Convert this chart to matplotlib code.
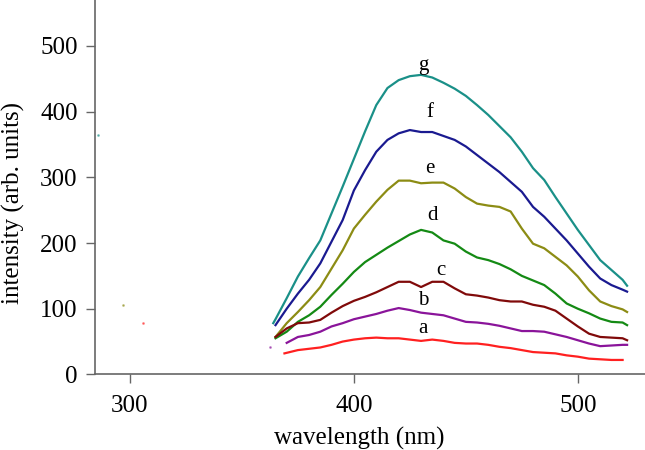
import matplotlib
matplotlib.use("Agg")
import matplotlib.pyplot as plt

plt.rcParams['font.family'] = ['Liberation Serif', 'DejaVu Serif']

# wavelength grid (nm)
wl = [365, 370, 375, 380, 385, 390, 395, 400, 405, 410, 415, 420, 425, 430,
      435, 440, 445, 450, 455, 460, 465, 470, 475, 480, 485, 490, 495, 500,
      505, 510, 515, 520, 522]

# intensities
g_wl = [364] + wl
g = [78, 84, 116, 149, 177, 204, 245, 286, 328, 370, 410, 436, 448, 454, 456,
     452, 444, 435, 424, 410, 395, 378, 361, 339, 314, 296, 270, 245, 220,
     197, 174, 159, 144, 135]
f = [75, 100, 123, 144, 169, 202, 235, 280, 311, 339, 357, 367, 372, 369,
     369, 363, 357, 347, 334, 321, 308, 293, 278, 255, 240, 222, 204, 184,
     164, 146, 136, 129, 126]
e = [57, 78, 95, 113, 133, 161, 189, 222, 243, 263, 281, 295, 295, 291,
     292, 292, 283, 270, 260, 257, 255, 248, 222, 199, 192, 179, 166, 149,
     128, 111, 104, 99, 95]
d = [55, 65, 80, 90, 103, 121, 138, 156, 171, 182, 193, 203, 213, 220,
     216, 204, 199, 187, 178, 174, 168, 160, 150, 143, 136, 123, 108, 100,
     93, 85, 80, 79, 75]
c = [57, 70, 78, 79, 83, 94, 104, 112, 118, 125, 133, 141, 141, 133,
     141, 141, 131, 122, 120, 117, 113, 111, 111, 106, 103, 97, 85, 73,
     62, 57, 56, 55, 52]
b_wl = wl[1:]
b = [48, 57, 60, 65, 73, 78, 84, 88, 92, 97, 101, 98, 94,
     92, 90, 85, 80, 79, 77, 74, 70, 66, 66, 65, 61, 57, 52,
     47, 43, 44, 45, 45]
a_wl = [369] + wl[2:-1]
a = [32, 37, 39, 41, 45, 50, 53, 55, 56, 55, 55, 53, 51,
     53, 51, 48, 47, 47, 45, 42, 40, 37, 34, 33, 32, 29, 27,
     24, 23, 22, 22]

series = [
    (g_wl, g, '#1a9088', 'g', 431, 470),
    (wl, f, '#1a1a90', 'f', 434, 398),
    (wl, e, '#8c8c14', 'e', 434, 314),
    (wl, d, '#148a14', 'd', 435, 242),
    (wl, c, '#800a0a', 'c', 439, 158),
    (b_wl, b, '#8a149a', 'b', 431, 112),
    (a_wl, a, '#ff2020', 'a', 431, 70),
]

# stray single points seen in the picture
stray_x = [285.7, 297, 306, 362.5]
stray_y = [364, 106, 78, 42]
stray_c = ['#1a9088', '#8c8c14', '#ff2020', '#8a149a']

fig = plt.figure(figsize=(6.45, 4.5), dpi=100)
ax = fig.add_axes([0.1473, 0.168, 0.8527, 0.832])

for x, y, col, lab, lx, ly in series:
    ax.plot(x, y, color=col, lw=1.6)
    ax.text(lx, ly, lab, fontsize=15, ha='center', va='center')

for sx, sy, sc in zip(stray_x, stray_y, stray_c):
    ax.plot(sx, sy, 'o', ms=1, color=sc, alpha=0.5)

ax.set_xlim(284.4, 530)
ax.set_ylim(0, 570)
ax.set_xticks([300, 400, 500])
ax.set_yticks([0, 100, 200, 300, 400, 500])

for side in ['top', 'right']:
    ax.spines[side].set_visible(False)
for side in ['left', 'bottom']:
    ax.spines[side].set_color('#666666')
    ax.spines[side].set_linewidth(1.2)

ax.tick_params(direction='out', length=6.5, width=1, color='#666666',
               labelsize=18, pad=6)
ax.tick_params(axis='x', pad=8)

ax.set_xlabel('wavelength (nm)', fontsize=18)
ax.set_ylabel('intensity (arb. units)', fontsize=18)
ax.xaxis.set_label_coords(0.48, -0.14)
ax.yaxis.set_label_coords(-0.127, 0.459)

fig.savefig('out.png', dpi=100)
